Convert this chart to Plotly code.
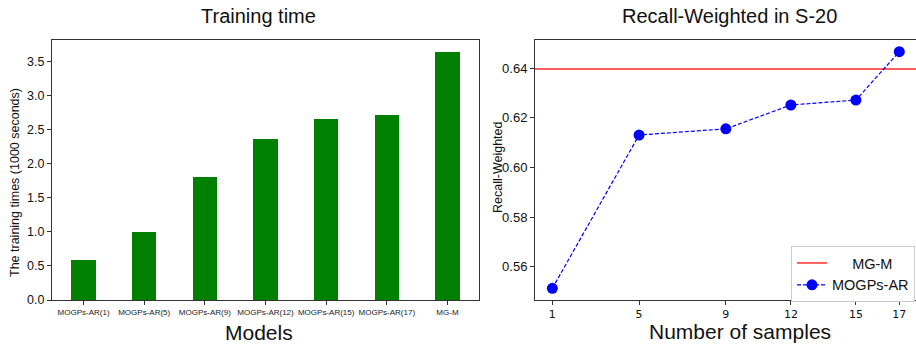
import plotly.graph_objects as go

# ---- data ----
models = ["MOGPs-AR(1)", "MOGPs-AR(5)", "MOGPs-AR(9)", "MOGPs-AR(12)",
          "MOGPs-AR(15)", "MOGPs-AR(17)", "MG-M"]
train_times = [0.59, 1.0, 1.81, 2.36, 2.66, 2.72, 3.64]

samples = [1, 5, 9, 12, 15, 17]
recall_mogps = [0.5513, 0.6131, 0.6156, 0.6252, 0.6272, 0.6467]
recall_mgm = 0.6397

left_yticks = [0.0, 0.5, 1.0, 1.5, 2.0, 2.5, 3.0, 3.5]
right_yticks = [0.56, 0.58, 0.60, 0.62, 0.64]

W, H = 916, 345
def px(x):
    return x / W
def py(y):
    return 1 - y / H

FONT = "Liberation Sans, Arial, sans-serif"
DJ = "DejaVu Sans, sans-serif"

fig = go.Figure()

fig.add_trace(go.Bar(
    x=list(range(len(models))), y=train_times, width=0.4,
    marker=dict(color="#008000", line=dict(width=0)),
    showlegend=False, xaxis="x", yaxis="y"))

fig.add_trace(go.Scatter(
    x=[0.2, 17.8], y=[recall_mgm, recall_mgm], mode="lines",
    line=dict(color="rgba(255,40,40,0.75)", width=2),
    name="&nbsp;&nbsp;&nbsp;&nbsp;&nbsp;MG-M", xaxis="x2", yaxis="y2"))

fig.add_trace(go.Scatter(
    x=samples, y=recall_mogps, mode="lines+markers",
    line=dict(color="#0000ff", width=1.2, dash="4px,2px"),
    marker=dict(color="#0000ff", size=11),
    name="MOGPs-AR", xaxis="x2", yaxis="y2"))

axis_common = dict(showgrid=False, zeroline=False, showline=True, mirror=True,
                   linecolor="#333333", linewidth=1, ticks="outside",
                   ticklen=4, tickcolor="#333333", automargin=False)

fig.update_layout(
    width=W, height=H,
    margin=dict(l=0, r=0, t=0, b=0),
    paper_bgcolor="white", plot_bgcolor="white",
    font=dict(family=FONT, color="#111111"),
    bargap=0,
    xaxis=dict(domain=[px(52), px(479)], range=[-0.52, 6.52],
               tickvals=list(range(len(models))), ticktext=models,
               tickangle=0,
               tickfont=dict(size=8, family=FONT, color="#222"),
               anchor="y", **axis_common),
    yaxis=dict(domain=[py(300), py(40)], range=[0, 3.822],
               tickvals=left_yticks,
               ticktext=[f"{v:.1f}" for v in left_yticks],
               tickfont=dict(size=12.5, family=FONT, color="#111"),
               anchor="x", **axis_common),
    xaxis2=dict(domain=[px(535), 1.0], range=[0.2, 17.77],
                tickvals=samples, ticktext=[str(s) for s in samples],
                tickangle=0,
                tickfont=dict(size=11, family=DJ, color="#111"),
                anchor="y2", **axis_common),
    yaxis2=dict(domain=[py(300), py(40)], range=[0.5466, 0.6514],
                tickvals=right_yticks,
                ticktext=[f"{v:.2f}" for v in right_yticks],
                tickfont=dict(size=13, family=FONT, color="#111"),
                anchor="x2", **axis_common),
    legend=dict(x=px(791), y=py(246), xanchor="left", yanchor="top",
                bgcolor="white", bordercolor="#cccccc", borderwidth=1,
                font=dict(size=14.5, family=FONT, color="#111"),
                itemwidth=30, tracegroupgap=0),
)

annotations = [
    dict(text="Training time", x=px(258), y=py(16), font=dict(size=20)),
    dict(text="Recall-Weighted in S-20", x=px(729), y=py(16), font=dict(size=20)),
    dict(text="Models", x=px(259), y=py(332), font=dict(size=21)),
    dict(text="Number of samples", x=px(740), y=py(331), font=dict(size=21)),
    dict(text="The training times (1000 seconds)", x=px(15), y=py(183),
         textangle=-90, font=dict(size=12.5)),
    dict(text="Recall-Weighted", x=px(498), y=py(167),
         textangle=-90, font=dict(size=12.5)),
]
for a in annotations:
    a.update(xref="paper", yref="paper", showarrow=False,
             xanchor="center", yanchor="middle")
    a["font"].update(family=FONT, color="#111111")
fig.update_layout(annotations=annotations)

fig.write_html("out.html")
